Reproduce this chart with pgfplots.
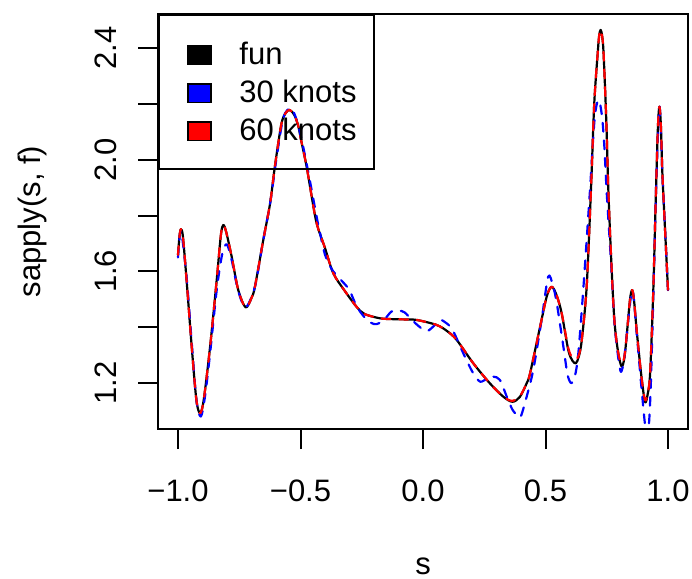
\documentclass[border=0pt]{standalone}
\usepackage{pgfplots}
\pgfplotsset{compat=1.18}
\usepackage{fontspec}
\setmainfont{Liberation Sans}
\newlength\px
\setlength\px{0.3871pt}
\newcommand\legsq[2]{\makebox[159.6\px][l]{\raisebox{1\px}{\fboxsep=0pt\fboxrule=1.5\px\fcolorbox{black}{#1}{\rule{21.6\px}{0pt}\rule{0pt}{17\px}}}\hspace{27.7\px}#2}}
\begin{document}
\fontsize{12}{14}\selectfont
\begin{tikzpicture}
\begin{axis}[
  scale only axis,
  width=529.2\px, height=415\px,
  xmin=-1.08, xmax=1.08,
  ymin=1.0354, ymax=2.5218,
  axis line style={line width=2\px, black},
  every tick/.style={black, line width=2\px},
  tick align=outside,
  tick pos=left,
  major tick length=20\px,
  xtick={-1,-0.5,0,0.5,1},
  xticklabels={−1.0,−0.5,0.0,0.5,1.0},
  ytick={1.2,1.4,1.6,1.8,2.0,2.2,2.4},
  yticklabels={1.2,,1.6,,2.0,,2.4},
  tick label style={font=\fontsize{12}{14}\selectfont},
  xticklabel style={anchor=base, yshift=-52\px},
  yticklabel style={xshift=-22\px, rotate=90, anchor=base},
  xlabel={s},
  xlabel style={at={(rel axis cs:0.5,0)}, anchor=base, yshift=-145\px, font=\fontsize{12}{14}\selectfont},
  ylabel={sapply(s, f)},
  ylabel style={at={([xshift=-118\px]rel axis cs:0,0.5)}, anchor=base, font=\fontsize{12}{14}\selectfont},
  legend style={at={(rel axis cs:0,1)}, anchor=north west, draw=black, line width=2\px, fill=none,
    inner xsep=27.7\px, inner ysep=28.2\px, column sep=0pt, row sep=17.35\px,
    nodes={inner sep=0pt, text height=21\px, text depth=0pt},
    cells={anchor=west}, font=\fontsize{12}{14}\selectfont},
]
\coordinate (sw) at (rel axis cs:0,0);
\addlegendimage{empty legend}
\addlegendimage{empty legend}
\addlegendimage{empty legend}
\legend{\legsq{black}{fun},\legsq{blue}{30 knots},\legsq{red}{60 knots}}

\addplot[forget plot, black, line width=2.2\px, line cap=round, line join=round, smooth, tension=0.5] table {
x y
-1.000 1.659
-0.994 1.725
-0.988 1.751
-0.980 1.725
-0.965 1.569
-0.944 1.330
-0.925 1.140
-0.910 1.092
-0.895 1.140
-0.869 1.330
-0.842 1.569
-0.825 1.730
-0.815 1.766
-0.803 1.740
-0.781 1.653
-0.754 1.533
-0.724 1.471
-0.700 1.505
-0.686 1.545
-0.652 1.712
-0.624 1.844
-0.605 1.973
-0.578 2.128
-0.560 2.168
-0.544 2.178
-0.525 2.160
-0.509 2.120
-0.497 2.068
-0.475 1.975
-0.456 1.877
-0.434 1.772
-0.401 1.686
-0.366 1.593
-0.320 1.531
-0.271 1.473
-0.238 1.447
-0.176 1.432
-0.129 1.429
-0.080 1.428
-0.026 1.426
0.056 1.408
0.100 1.385
0.138 1.354
0.205 1.271
0.273 1.199
0.328 1.151
0.365 1.133
0.395 1.150
0.423 1.199
0.437 1.235
0.478 1.402
0.505 1.510
0.525 1.545
0.545 1.515
0.566 1.450
0.593 1.318
0.610 1.280
0.624 1.271
0.636 1.295
0.648 1.354
0.668 1.545
0.686 1.903
0.699 2.202
0.713 2.381
0.719 2.444
0.725 2.465
0.731 2.444
0.737 2.381
0.748 2.142
0.756 1.903
0.767 1.665
0.781 1.426
0.797 1.307
0.811 1.259
0.822 1.290
0.831 1.366
0.845 1.500
0.854 1.533
0.862 1.490
0.872 1.390
0.890 1.235
0.906 1.133
0.917 1.160
0.927 1.235
0.940 1.533
0.951 1.891
0.959 2.120
0.965 2.190
0.971 2.120
0.977 1.951
0.988 1.748
1.000 1.533
};

\addplot[forget plot, blue, line width=2.2\px, line cap=round, line join=round, dash pattern=on 8.8\px off 8.8\px, smooth, tension=0.5] table {
x y
-1.000 1.650
-0.988 1.745
-0.965 1.580
-0.944 1.345
-0.925 1.140
-0.907 1.080
-0.890 1.151
-0.869 1.307
-0.842 1.533
-0.820 1.660
-0.801 1.697
-0.781 1.641
-0.754 1.530
-0.724 1.471
-0.686 1.545
-0.652 1.712
-0.624 1.844
-0.597 2.011
-0.570 2.150
-0.540 2.185
-0.515 2.140
-0.490 2.050
-0.465 1.940
-0.434 1.795
-0.420 1.736
-0.400 1.660
-0.374 1.610
-0.347 1.580
-0.320 1.555
-0.299 1.531
-0.271 1.475
-0.238 1.435
-0.210 1.415
-0.190 1.411
-0.160 1.425
-0.129 1.456
-0.100 1.460
-0.075 1.453
-0.050 1.430
-0.027 1.411
0.000 1.392
0.020 1.387
0.045 1.405
0.069 1.426
0.090 1.418
0.117 1.396
0.145 1.345
0.171 1.294
0.205 1.235
0.233 1.205
0.260 1.215
0.287 1.223
0.314 1.211
0.342 1.151
0.365 1.105
0.389 1.080
0.400 1.082
0.423 1.151
0.450 1.247
0.484 1.426
0.511 1.581
0.530 1.550
0.546 1.486
0.573 1.330
0.590 1.230
0.605 1.200
0.620 1.225
0.634 1.307
0.655 1.545
0.680 1.870
0.700 2.142
0.716 2.214
0.730 2.160
0.740 2.050
0.750 1.880
0.767 1.640
0.781 1.420
0.797 1.290
0.808 1.240
0.820 1.280
0.831 1.366
0.854 1.533
0.872 1.380
0.890 1.200
0.905 1.060
0.913 1.010
0.922 1.050
0.930 1.200
0.940 1.510
0.951 1.880
0.965 2.190
0.977 1.951
0.988 1.748
1.000 1.533
};

\addplot[forget plot, red, line width=2.2\px, line cap=round, line join=round, dash pattern=on 8.8\px off 8.8\px, smooth, tension=0.5] table {
x y
-1.000 1.659
-0.994 1.725
-0.988 1.751
-0.980 1.725
-0.965 1.569
-0.944 1.330
-0.925 1.140
-0.910 1.092
-0.895 1.140
-0.869 1.330
-0.842 1.569
-0.825 1.730
-0.815 1.766
-0.803 1.740
-0.781 1.653
-0.754 1.533
-0.724 1.471
-0.700 1.505
-0.686 1.545
-0.652 1.712
-0.624 1.844
-0.605 1.973
-0.578 2.128
-0.560 2.168
-0.544 2.178
-0.525 2.160
-0.509 2.120
-0.497 2.068
-0.475 1.975
-0.456 1.877
-0.434 1.772
-0.401 1.686
-0.366 1.593
-0.320 1.531
-0.271 1.473
-0.238 1.447
-0.176 1.432
-0.129 1.429
-0.080 1.428
-0.026 1.426
0.056 1.408
0.100 1.385
0.138 1.354
0.205 1.271
0.273 1.199
0.328 1.151
0.365 1.136
0.395 1.152
0.423 1.199
0.437 1.235
0.478 1.402
0.505 1.510
0.525 1.545
0.545 1.515
0.566 1.450
0.593 1.325
0.610 1.290
0.624 1.285
0.636 1.300
0.648 1.354
0.668 1.545
0.686 1.903
0.699 2.202
0.713 2.381
0.719 2.444
0.725 2.465
0.731 2.444
0.737 2.381
0.748 2.142
0.756 1.903
0.767 1.665
0.781 1.426
0.797 1.307
0.811 1.270
0.822 1.295
0.831 1.366
0.845 1.500
0.854 1.533
0.862 1.490
0.872 1.390
0.890 1.235
0.906 1.140
0.917 1.165
0.927 1.235
0.940 1.533
0.951 1.891
0.959 2.120
0.965 2.190
0.971 2.120
0.977 1.951
0.988 1.748
1.000 1.533
};
\end{axis}
\pgfresetboundingbox
\path ([shift={(-158.4\px,-149\px)}]sw) rectangle ([shift={(533.6\px,429\px)}]sw);
\end{tikzpicture}
\end{document}
